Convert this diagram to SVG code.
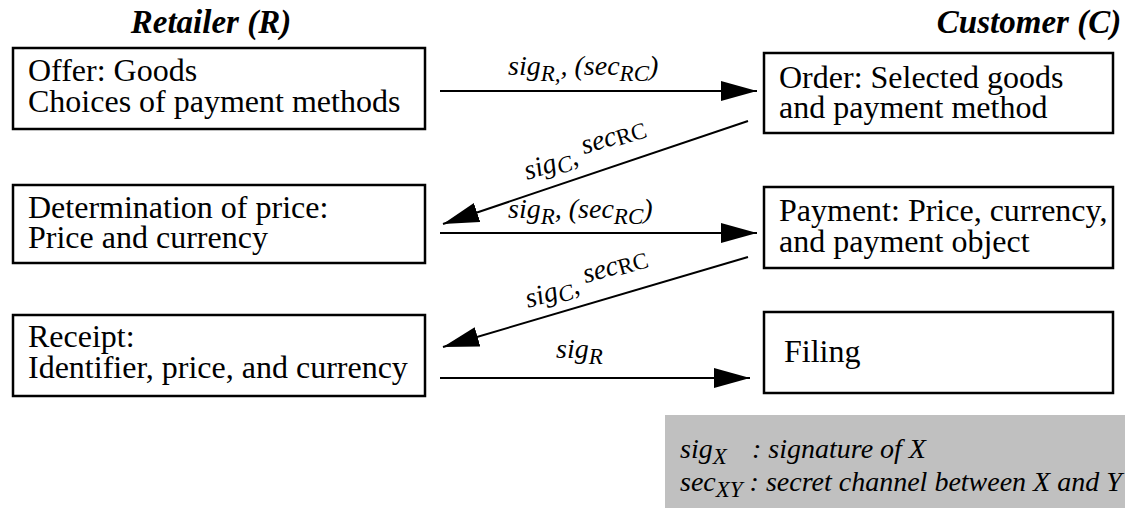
<svg xmlns="http://www.w3.org/2000/svg" width="1125" height="508" viewBox="0 0 1125 508">
  <style>
    .box { fill: #ffffff; stroke: #000000; stroke-width: 2.5; }
    .txt { font-family: "Liberation Serif", "Times New Roman", serif; font-size: 32px; fill: #000; }
    .hdr { font-family: "Liberation Serif", "Times New Roman", serif; font-size: 33px; font-weight: bold; font-style: italic; fill: #000; }
    .lbl { font-family: "Liberation Serif", "Times New Roman", serif; font-size: 28px; font-style: italic; fill: #000; }
    .sub { font-size: 23px; }
    .up { font-style: normal; }
    .conn { stroke: #000000; stroke-width: 2; fill: none; }
  </style>
  <defs>
    <marker id="head" markerUnits="userSpaceOnUse" markerWidth="40" markerHeight="22" refX="36" refY="10" orient="auto">
      <path d="M0,0 L36,10 L0,20 Z" fill="#000"/>
    </marker>
  </defs>
  <rect width="1125" height="508" fill="#ffffff"/>

  <!-- column headings -->
  <text class="hdr" x="211" y="33" text-anchor="middle">Retailer (R)</text>
  <text class="hdr" x="1029" y="33" text-anchor="middle">Customer (C)</text>

  <!-- retailer steps -->
  <g id="offer">
    <rect class="box" x="13" y="48" width="412" height="81"/>
    <text class="txt" x="28" y="81">Offer: Goods</text>
    <text class="txt" x="28" y="112">Choices of payment methods</text>
  </g>
  <g id="price">
    <rect class="box" x="13" y="185" width="412" height="78"/>
    <text class="txt" x="28" y="218">Determination of price:</text>
    <text class="txt" x="28" y="248">Price and currency</text>
  </g>
  <g id="receipt">
    <rect class="box" x="13" y="315" width="412" height="81"/>
    <text class="txt" x="28" y="347">Receipt:</text>
    <text class="txt" x="28" y="378">Identifier, price, and currency</text>
  </g>

  <!-- customer steps -->
  <g id="order">
    <rect class="box" x="764" y="53" width="349" height="80"/>
    <text class="txt" x="779" y="88">Order: Selected goods</text>
    <text class="txt" x="779" y="118">and payment method</text>
  </g>
  <g id="payment">
    <rect class="box" x="764" y="187" width="349" height="81"/>
    <text class="txt" x="779" y="221">Payment: Price, currency,</text>
    <text class="txt" x="779" y="252">and payment object</text>
  </g>
  <g id="filing">
    <rect class="box" x="764" y="312" width="349" height="81"/>
    <text class="txt" x="784" y="362">Filing</text>
  </g>

  <!-- messages between retailer and customer -->
  <g id="connectors">
    <line class="conn" x1="440" y1="91" x2="757" y2="91" marker-end="url(#head)"/>
    <line class="conn" x1="748" y1="121" x2="443" y2="224" marker-end="url(#head)"/>
    <line class="conn" x1="440" y1="233" x2="757" y2="233" marker-end="url(#head)"/>
    <line class="conn" x1="748" y1="257" x2="443" y2="347" marker-end="url(#head)"/>
    <line class="conn" x1="440" y1="378" x2="750" y2="378" marker-end="url(#head)"/>

    <text class="lbl" x="508" y="75">sig<tspan class="sub" dy="6">R,</tspan><tspan dy="-6">, (sec</tspan><tspan class="sub" dy="6">RC</tspan><tspan dy="-6">)</tspan></text>
    <g transform="translate(527,180) rotate(-17)">
      <text class="lbl" x="0" y="0">sig<tspan class="sub" dy="4">C</tspan><tspan dy="-4">, </tspan><tspan dy="-8">sec</tspan><tspan class="sub up" dy="2">RC</tspan></text>
    </g>
    <text class="lbl" x="508" y="218">sig<tspan class="sub" dy="6">R</tspan><tspan dy="-6">, (sec</tspan><tspan class="sub" dy="6">RC</tspan><tspan dy="-6">)</tspan></text>
    <g transform="translate(528,308) rotate(-16)">
      <text class="lbl" x="0" y="0">sig<tspan class="sub" dy="4">C</tspan><tspan dy="-4">, </tspan><tspan dy="-8">sec</tspan><tspan class="sub up" dy="2">RC</tspan></text>
    </g>
    <text class="lbl" x="556" y="358">sig<tspan class="sub" dy="6">R</tspan></text>
  </g>

  <!-- legend -->
  <g id="legend">
    <rect x="665" y="415" width="460" height="93" fill="#c0c0c0"/>
    <text class="lbl" x="680" y="458">sig<tspan class="sub" dy="6">X</tspan><tspan dy="-6" x="752">: signature of X</tspan></text>
    <text class="lbl" x="680" y="491">sec<tspan class="sub" dy="6">XY</tspan><tspan dy="-6"> : secret channel between X and Y</tspan></text>
  </g>
</svg>
